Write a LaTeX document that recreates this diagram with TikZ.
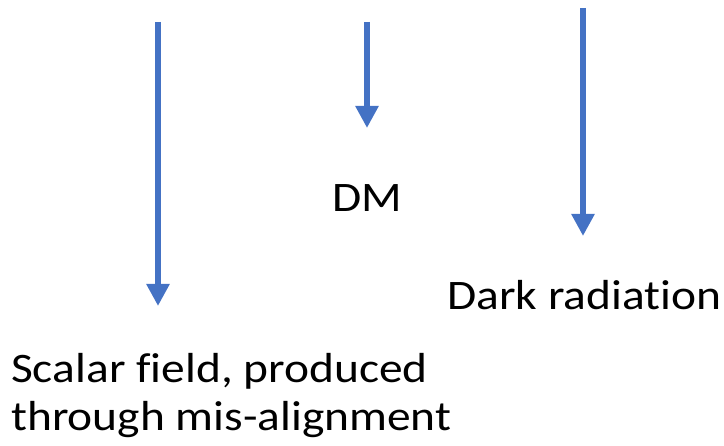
\documentclass[tikz,border=0pt]{standalone}
\usepackage{fontspec}
\setmainfont[Ligatures={NoCommon}, FakeStretch=1.13]{Carlito}
\usetikzlibrary{arrows.meta}
\definecolor{arrowblue}{HTML}{4472C4}
\tikzset{
  flow/.style={draw=arrowblue, line width=5.5pt, -{Triangle[width=22pt,length=22pt]}},
  label/.style={inner sep=0pt, font=\fontsize{42}{48}\selectfont, text=black}
}
\begin{document}
\begin{tikzpicture}[x=1pt,y=-1pt]
  \useasboundingbox (0,0) rectangle (724,446);
  % arrow end points
  \coordinate (a1s) at (158,22);
  \coordinate (a1e) at (158,306);
  \coordinate (a2s) at (367,22);
  \coordinate (a2e) at (367,128);
  \coordinate (a3s) at (583,8);
  \coordinate (a3e) at (583,236);
  \draw[flow] (a1s) -- (a1e);
  \draw[flow] (a2s) -- (a2e);
  \draw[flow] (a3s) -- (a3e);
  % labels
  \node[label, anchor=base] (dm) at (367,212) {DM};
  \node[label, anchor=base west] (dr) at (447,310) {Dark radiation};
  \node[label, anchor=base west] (sf1) at (11,383) {Scalar field, produced};
  \node[label, anchor=base west] (sf2) at (11,431) {through mis-alignment};
\end{tikzpicture}
\end{document}
